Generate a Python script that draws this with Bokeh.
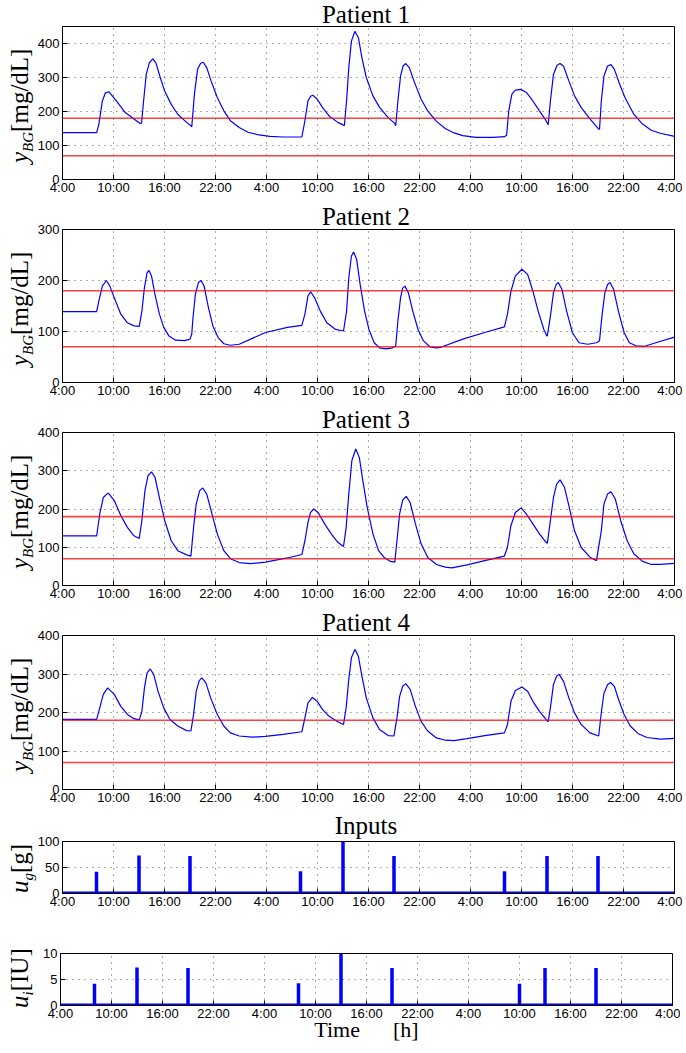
import numpy as np
from bokeh.plotting import figure
from bokeh.models import FixedTicker, Range1d, Span, Div
from bokeh.layouts import column, row
from bokeh.embed import file_html
from bokeh.resources import INLINE

# ---------------- data ----------------
# time in hours since 4:00 on day 1
TICK_HOURS = [0, 6, 12, 18, 24, 30, 36, 42, 48, 54, 60, 66, 72]
TICK_LABELS = ["4:00", "10:00", "16:00", "22:00", "4:00", "10:00", "16:00",
               "22:00", "4:00", "10:00", "16:00", "22:00", "4:00"]
SIM_START, SIM_END = 0, 72
HYPO, HYPER = 70, 180

p1_t = [0, 4.02, 4.28, 4.69, 5.05, 5.47, 6.34, 7.38, 8.41, 9.13, 9.30, 9.54, 9.85, 10.21, 10.62,
        10.99, 11.50, 12.02, 12.79, 13.56, 14.60, 15.11, 15.21, 15.52, 15.89, 16.25, 16.56, 16.97,
        17.48, 18.21, 18.98, 19.75, 20.79, 21.82, 23.11, 24.40, 25.94, 28.01, 28.16, 28.52, 28.88,
        29.19, 29.45, 29.97, 30.58, 31.36, 32.39, 33.06, 33.16, 33.42, 33.68, 33.99, 34.40, 34.81,
        35.23, 35.74, 36.52, 37.30, 38.32, 39.09, 39.20, 39.46, 39.77, 40.07, 40.38, 40.80, 41.42,
        42.19, 42.96, 43.99, 45.03, 46.06, 47.09, 48.64, 50.70, 51.99, 52.25, 52.50, 52.87, 53.28,
        53.90, 54.57, 55.34, 56.11, 56.89, 57.14, 57.40, 57.76, 58.18, 58.54, 58.95, 59.57, 60.24,
        61.01, 62.05, 63.08, 63.18, 63.39, 63.70, 64.12, 64.52, 64.93, 65.55, 66.17, 67.21, 68.24,
        69.27, 70.31, 72]
p1_bg = [138, 138, 163, 231, 255, 258, 231, 197, 178, 165, 166, 231, 309, 343, 355,
         343, 300, 260, 221, 192, 168, 158, 155, 251, 324, 342, 345, 329,
         290, 241, 202, 173, 153, 139, 131, 127, 125, 125, 125, 173, 231,
         245, 248, 236, 212, 187, 168, 160, 158, 231, 329, 407, 436, 417,
         358, 300, 246, 212, 182, 165, 158, 231, 304, 334, 341, 329, 285,
         236, 202, 171, 150, 137, 129, 124, 124, 126, 130, 202, 251, 263,
         265, 256, 231, 202, 173, 161, 231, 309, 336, 341, 333, 290, 246,
         212, 178, 148, 148, 231, 304, 334, 338, 324, 280, 241, 192, 163,
         145, 136, 127]

p2_t = [0, 4.02, 4.28, 4.69, 5.11, 5.16, 5.57, 6.09, 6.86, 7.63, 8.41, 9.03, 9.34, 9.64, 9.95,
        10.16, 10.47, 10.88, 11.40, 11.91, 12.53, 13.31, 14.34, 15.01, 15.21, 15.32, 15.63, 15.99,
        16.30, 16.66, 17.17, 17.69, 18.31, 18.98, 19.75, 20.79, 23.88, 26.46, 28.16, 28.52, 28.88,
        29.19, 29.66, 30.33, 31.10, 32.13, 33.06, 33.42, 33.68, 33.99, 34.25, 34.61, 35.02, 35.54,
        36.05, 36.67, 37.30, 38.06, 38.84, 39.20, 39.46, 39.77, 40.02, 40.28, 40.69, 41.21, 41.83,
        42.45, 43.22, 43.99, 44.51, 47.09, 49.67, 51.99, 52.35, 52.76, 53.28, 54.05, 54.72, 55.34,
        55.96, 56.63, 56.99, 57.04, 57.40, 57.76, 58.07, 58.33, 58.75, 59.31, 59.98, 60.76, 61.79,
        62.82, 63.18, 63.49, 63.81, 64.12, 64.42, 64.83, 65.40, 66.07, 66.69, 67.47, 68.50, 69.79, 72]
p2_bg = [139, 139, 160, 189, 199, 200, 189, 166, 134, 117, 111, 110, 140, 186, 215,
         220, 209, 173, 134, 108, 91, 83, 82, 85, 95, 121, 173, 196,
         200, 189, 147, 111, 88, 76, 73, 75, 98, 108, 112, 134, 170,
         178, 166, 140, 117, 104, 101, 140, 205, 248, 256, 241, 192, 140,
         104, 78, 68, 66, 68, 71, 121, 166, 185, 189, 176, 140, 104,
         82, 70, 68, 69, 85, 98, 109, 134, 179, 209, 222, 212, 179,
         140, 104, 91, 92, 130, 176, 192, 196, 183, 140, 98, 78, 75,
         78, 82, 134, 176, 192, 196, 183, 140, 98, 78, 72, 71, 78, 89]

p3_t = [0, 4.02, 4.38, 4.80, 5.31, 5.42, 6.09, 6.86, 7.63, 8.41, 9.03, 9.34, 9.70, 10.06, 10.47,
        10.88, 11.40, 12.02, 12.79, 13.56, 14.60, 15.11, 15.42, 15.73, 16.14, 16.50, 16.97, 17.48,
        18.21, 18.98, 19.75, 20.79, 22.07, 23.88, 26.46, 28.16, 28.52, 28.88, 29.19, 29.55, 30.07,
        30.84, 31.62, 32.39, 33.06, 33.37, 33.68, 34.04, 34.50, 34.92, 35.33, 35.85, 36.52, 37.19,
        37.81, 38.58, 39.09, 39.35, 39.66, 40.02, 40.44, 40.90, 41.52, 42.19, 42.96, 43.99, 45.03,
        45.80, 47.60, 49.67, 51.99, 52.35, 52.76, 53.28, 53.95, 54.57, 55.34, 56.11, 56.89, 57.04,
        57.40, 57.76, 58.13, 58.54, 59.05, 59.62, 60.24, 61.01, 62.05, 62.82, 63.39, 63.70, 64.12,
        64.52, 65.04, 65.66, 66.43, 67.21, 68.24, 69.27, 70.31, 72]
p3_bg = [130, 130, 187, 230, 241, 241, 222, 183, 152, 130, 123, 170, 248, 287, 297,
         283, 230, 170, 117, 91, 80, 77, 152, 213, 248, 255, 239, 196,
         135, 91, 70, 60, 57, 61, 72, 81, 117, 165, 191, 200, 191,
         161, 135, 113, 102, 152, 239, 326, 357, 335, 274, 204, 135, 91,
         74, 63, 61, 117, 187, 223, 233, 217, 161, 109, 74, 55, 48,
         46, 54, 65, 77, 100, 157, 191, 203, 187, 161, 135, 113, 110,
         170, 230, 265, 276, 257, 204, 143, 100, 74, 65, 143, 213, 239,
         245, 226, 170, 117, 83, 63, 55, 55, 58]

p4_t = [0, 4.02, 4.38, 4.80, 5.31, 6.09, 6.86, 7.63, 8.41, 9.03, 9.34, 9.64, 9.95, 10.32, 10.73,
        11.24, 11.91, 12.64, 13.56, 14.60, 15.11, 15.42, 15.73, 16.09, 16.40, 16.87, 17.43, 18.21,
        18.98, 19.75, 20.79, 22.33, 23.88, 25.94, 28.16, 28.52, 28.88, 29.40, 29.97, 30.58, 31.36,
        32.39, 33.06, 33.37, 33.68, 33.99, 34.40, 34.81, 35.23, 35.74, 36.52, 37.30, 38.32, 38.99,
        39.35, 39.66, 40.02, 40.38, 40.90, 41.52, 42.19, 42.96, 43.99, 45.03, 46.06, 47.60, 49.67,
        51.99, 52.35, 52.76, 53.28, 54.05, 54.72, 55.34, 56.11, 56.89, 57.14, 57.40, 57.76, 58.13,
        58.43, 58.95, 59.57, 60.24, 61.01, 62.05, 63.08, 63.39, 63.70, 64.12, 64.47, 64.93, 65.40,
        66.07, 66.79, 67.73, 68.76, 70.31, 72]
p4_bg = [182, 182, 212, 247, 264, 247, 216, 195, 184, 181, 203, 264, 303, 313, 299,
         255, 212, 182, 165, 153, 152, 195, 255, 283, 290, 277, 238, 195,
         165, 147, 139, 136, 138, 143, 150, 186, 225, 239, 229, 208, 190,
         176, 169, 212, 286, 342, 364, 346, 294, 238, 186, 156, 140, 139,
         186, 242, 268, 275, 260, 216, 177, 152, 134, 128, 127, 132, 140,
         147, 169, 229, 257, 266, 255, 229, 203, 182, 176, 212, 273, 294,
         299, 281, 238, 199, 169, 147, 139, 200, 250, 272, 278, 268, 235,
         195, 165, 145, 135, 131, 133]

MEAL_T = [4, 9, 15, 28, 33, 39, 52, 57, 63]
MEAL_G = [42, 73, 72, 43, 100, 72, 43, 72, 72]
BOLUS_T = [4, 9, 15, 28, 33, 39, 54, 57, 63]
BOLUS_U = [4.2, 7.3, 7.2, 4.3, 10, 7.2, 4.2, 7.2, 7.2]

# ---------------- layout ----------------
FRAME_W = 612
LAB_W = 34          # strip that holds the rotated y labels
MAIN_LEFT = 26      # left border of the main figure (tick labels)
MAIN_RIGHT = 8
TOTAL_W = LAB_W + MAIN_LEFT + FRAME_W + MAIN_RIGHT
SERIF = "'Liberation Serif', serif"
SANS = "Liberation Sans"
BLUE = "#0000ff"
RED = "#ff0000"
TOP = 8             # top border of each panel (room for the top tick label)
BOTTOM = 21


def title_strip(text, height, baseline):
    # 25px font with a 6px line box: baseline lies 11.45px below the box top
    top = baseline - 11.45
    html = (f'<div style="position:relative;width:{TOTAL_W}px;height:{height}px;">'
            f'<div style="position:absolute;left:{LAB_W + MAIN_LEFT}px;width:{FRAME_W}px;'
            f'top:{top:.1f}px;text-align:center;font-family:{SERIF};font-size:25px;'
            f'line-height:6px;white-space:nowrap;color:#000;">{text}</div></div>')
    return Div(text=html, width=TOTAL_W, height=height, margin=0)


def label_strip(parts, start_y, height, base_x=28):
    # rotated label; line box 24px, 25px font -> baseline 19.6px inside the box
    main, sub, unit = parts
    left = base_x - 19.6
    html = (f'<div style="position:relative;width:{LAB_W}px;height:{height}px;">'
            f'<div style="position:absolute;left:{left:.1f}px;top:{start_y:.1f}px;'
            f'transform:rotate(-90deg);transform-origin:0 0;white-space:nowrap;'
            f'font-family:{SERIF};font-size:25px;line-height:24px;color:#000;">'
            f'<i>{main}</i><i style="font-size:15px;position:relative;top:5px;">{sub}</i>'
            f'{unit}</div></div>')
    return Div(text=html, width=LAB_W, height=height, margin=0)


def make_panel(ymax, yticks, frame_h, top, bottom):
    p = figure(frame_width=FRAME_W, frame_height=frame_h,
               min_border_left=MAIN_LEFT, min_border_right=MAIN_RIGHT,
               min_border_top=top, min_border_bottom=bottom,
               x_range=Range1d(SIM_START, SIM_END), y_range=Range1d(0, ymax),
               output_backend="svg", toolbar_location=None, tools="")
    p.xaxis.ticker = FixedTicker(ticks=TICK_HOURS)
    p.xaxis.major_label_overrides = {h: lab for h, lab in zip(TICK_HOURS, TICK_LABELS)}
    p.yaxis.ticker = FixedTicker(ticks=yticks)
    for ax in (p.xaxis[0], p.yaxis[0]):
        ax.major_tick_in = 5
        ax.major_tick_out = 0
        ax.minor_tick_line_color = None
        ax.axis_line_color = "black"
        ax.major_tick_line_color = "black"
        ax.major_label_text_font = SANS
        ax.major_label_text_font_size = "13px"
        ax.major_label_text_color = "black"
    p.xaxis.major_label_standoff = 0
    p.yaxis.major_label_standoff = 3
    p.outline_line_color = "black"
    p.outline_line_alpha = 1
    p.grid.grid_line_color = "black"
    p.grid.grid_line_alpha = 0.65
    p.grid.grid_line_dash = "1 5"
    p.background_fill_color = "white"
    p.border_fill_color = None
    return p


BG_PARTS = ("y", "BG", "[mg/dL]")

# (title, strip height, baseline in strip, t, bg, ymax, yticks, frame_h)
patients = [
    ("Patient 1", 18, 23, p1_t, p1_bg, 450, [0, 100, 200, 300, 400], 153),
    ("Patient 2", 21, 25, p2_t, p2_bg, 300, [0, 100, 200, 300], 153),
    ("Patient 3", 21, 25, p3_t, p3_bg, 400, [0, 100, 200, 300, 400], 153),
    ("Patient 4", 21, 25, p4_t, p4_bg, 400, [0, 100, 200, 300, 400], 154),
]

items = []
for title, th, base, t, bg, ymax, yt, fh in patients:
    items.append(title_strip(title, th, base))
    p = make_panel(ymax, yt, fh, TOP, BOTTOM)
    p.line(t, bg, line_color=BLUE, line_width=1.2)
    for lvl in (HYPER, HYPO):
        p.add_layout(Span(location=lvl, dimension="width", line_color=RED,
                          line_width=1.6, line_alpha=0.75))
    cy = TOP + fh / 2
    items.append(row(label_strip(BG_PARTS, cy + 60, TOP + fh + BOTTOM), p, spacing=0))

# inputs: carbohydrates
items.append(title_strip("Inputs", 23, 24))
pg = make_panel(100, [0, 50, 100], 52, TOP, BOTTOM)
pg.line([SIM_START, SIM_END], [0, 0], line_color=BLUE, line_width=4)
pg.segment(x0=MEAL_T, y0=0, x1=MEAL_T, y1=MEAL_G, line_color=BLUE, line_width=3.5)
items.append(row(label_strip(("u", "g", "[g]"), TOP + 26 + 26, TOP + 52 + BOTTOM), pg, spacing=0))

# inputs: insulin
TOP6, BOT6 = 39, 44
pi_ = make_panel(10, [0, 5, 10], 52, TOP6, BOT6)
pi_.line([SIM_START, SIM_END], [0, 0], line_color=BLUE, line_width=4)
pi_.segment(x0=BOLUS_T, y0=0, x1=BOLUS_T, y1=BOLUS_U, line_color=BLUE, line_width=3.5)
pi_.xaxis.axis_label = "Time\u00a0\u00a0\u00a0\u00a0\u00a0\u00a0[h]"
pi_.xaxis.axis_label_text_font = "Liberation Serif"
pi_.xaxis.axis_label_text_font_size = "22px"
pi_.xaxis.axis_label_text_font_style = "normal"
pi_.xaxis.axis_label_text_color = "black"
pi_.xaxis.axis_label_standoff = -7
items.append(row(label_strip(("u", "i", "[IU]"), TOP6 + 26 + 29, TOP6 + 52 + BOT6), pi_, spacing=0))

layout = column(*items, spacing=0)
open("out.html", "w").write(file_html(layout, INLINE))
